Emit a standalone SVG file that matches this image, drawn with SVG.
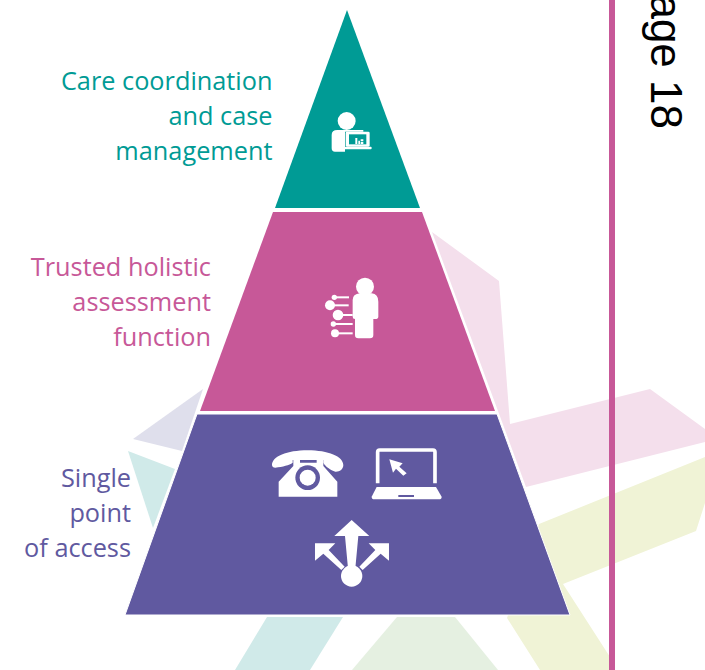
<svg xmlns="http://www.w3.org/2000/svg" width="705" height="670" viewBox="0 0 705 670">
<style>
.lbl{font-family:"Open Sans","Liberation Sans",sans-serif;font-size:25.3px;text-anchor:end}
.w{fill:#fff}
.t{fill:#009b95}.p{fill:#c75898}.v{fill:#6059a0}
</style>
<rect width="705" height="670" fill="#fff"/>
<g id="background">
<polygon points="432,232 499,281 510,424 650,389 705,429 705,442 526,487" fill="#f4dfec"/>
<polygon points="539,524 705,457 705,503 696,531 563,584 610,657 610,670 540,670 507,618" fill="#f0f3d6"/>
<polygon points="397,617 455,617 498,670 352,670" fill="#e5f0e1"/>
<polygon points="267,617 343,617 310,670 235,670" fill="#d0eae9"/>
<polygon points="203,389 133,439 182,451" fill="#dfdfec"/>
<polygon points="128,451 175,469 153,528" fill="#d0eae9"/>
</g>
<rect id="page-bar" x="609" y="0" width="6" height="670" class="p"/>
<text id="page-label" transform="translate(651,129) rotate(90)" text-anchor="end" font-family="'Liberation Sans',Arial,sans-serif" font-size="44" fill="#000">age 18</text>
<g id="node-care">
<polygon points="347,10 420,208 275,208" class="t"/>
<text class="lbl t" x="272.500" y="90">Care coordination</text>
<text class="lbl t" x="272.500" y="125">and case</text>
<text class="lbl t" x="272.500" y="160">management</text>
<g transform="translate(300,90) scale(.3333)" class="w">
<circle cx="140" cy="93" r="27"/>
<path d="M112,120H190V125H135V185H105Q95,185 95,175V135Q95,120 112,120Z"/>
<rect x="137" y="125" width="72" height="45" rx="4"/>
<rect x="147" y="133" width="52" height="30" class="t"/>
<rect x="133" y="170" width="82" height="8" rx="3"/>
<path d="M166,144h6v18h-6zM175,152h5v10h-5zM182,148h8v6h-8zM182,156h8v6h-8z"/>
</g>
</g>
<g id="node-assessment">
<polygon points="273,212 422,212 495,411 200,411" class="p"/>
<text class="lbl p" x="211" y="276">Trusted holistic</text>
<text class="lbl p" x="211" y="311">assessment</text>
<text class="lbl p" x="211" y="346">function</text>
<g transform="translate(310,270) scale(.3333)" class="w">
<circle cx="165" cy="50" r="27"/>
<path d="M150,70H185Q205,72 205,95V140Q205,147 195,147H190V195Q190,205 180,205H145Q135,205 135,195V147Q128,147 128,140V90Q128,72 150,70Z"/>
<circle cx="73" cy="82" r="8"/><rect x="73" y="79" width="44" height="6"/>
<circle cx="60" cy="106" r="15"/><rect x="60" y="103" width="56" height="6"/>
<circle cx="84" cy="135" r="16"/><rect x="84" y="132" width="44" height="6"/>
<circle cx="70" cy="162" r="8"/><rect x="70" y="159" width="58" height="6"/>
<circle cx="75" cy="190" r="12"/><rect x="75" y="187" width="53" height="6"/>
</g>
</g>
<g id="node-access">
<polygon points="197,414 497,414 570,615 125,615" class="v" stroke="#fff" stroke-width="1"/>
<text class="lbl v" x="131" y="487">Single</text>
<text class="lbl v" x="131" y="522">point</text>
<text class="lbl v" x="131" y="557">of access</text>
<g transform="translate(260,440) scale(.3333)">
<path class="w" d="M36,75C36,50 80,31 143,31C205,31 250,50 250,75C250,88 238,96 226,95C212,90 196,80 190,68V60H98V68C88,76 68,80 46,83C40,83 36,80 36,75Z"/>
<path class="w" d="M100,58H120V68H170V58H190V78L232,125V170H56V125L100,78Z"/>
<circle cx="143" cy="113" r="37" class="v"/>
<circle cx="143" cy="113" r="24" class="w"/>
<path d="M353,130V36Q353,30 359,30H519Q525,30 525,36V130" fill="none" stroke="#fff" stroke-width="11"/>
<path class="w" d="M350,141H528L545,170Q545,178 537,178H343Q335,178 335,170Z"/>
<rect x="415" y="165" width="47" height="6" class="v"/>
<path class="w" d="M388,58L428,70 418,80 440,100 430,107 408,86 399,98Z"/>
<path class="w" d="M275,240L328,288H295L286,385H264L255,288H223Z"/>
<path class="w" d="M165,310H226L206,330 254,380 244,390 190,341 165,362Z"/>
<path class="w" d="M387,310H326L346,330 298,380 308,390 362,341 387,362Z"/>
<circle cx="275" cy="408" r="32" class="w"/>
</g>
</g>
</svg>
